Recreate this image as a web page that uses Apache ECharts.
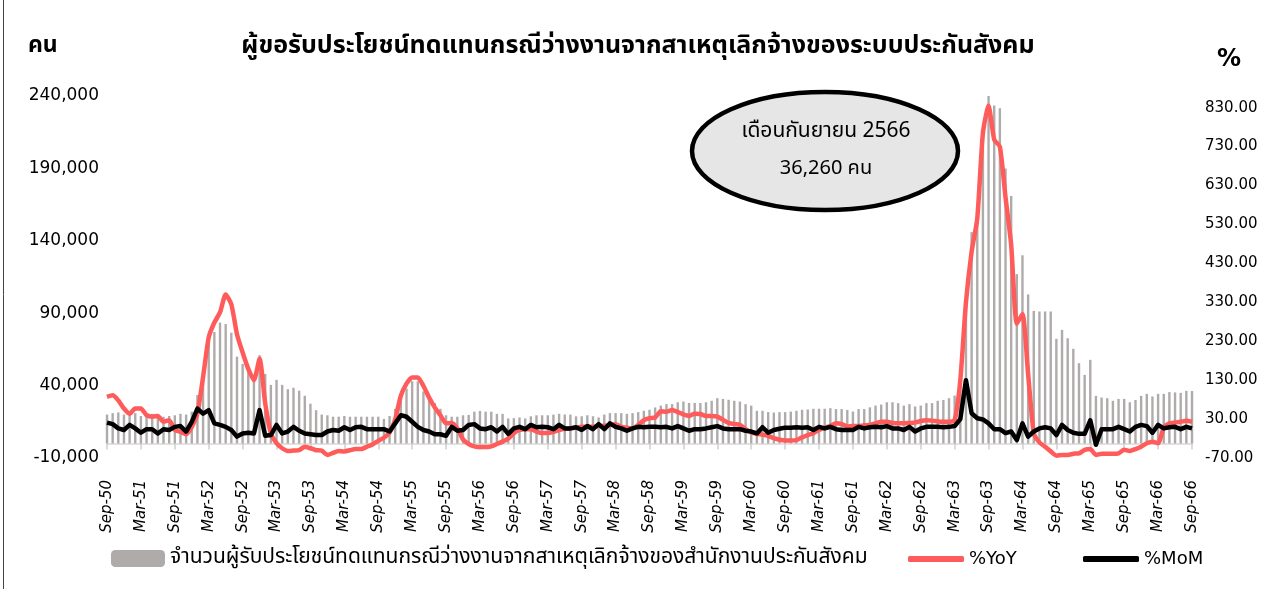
<!DOCTYPE html>
<html>
<head>
<meta charset="utf-8">
<script src="https://cdn.jsdelivr.net/npm/echarts@6/dist/echarts.min.js"></script>
<style>
html,body{margin:0;padding:0;background:#fff}
#main{width:1276px;height:589px}
</style>
</head>
<body>
<div id="main"></div>
<script>
// เดือน Sep-50 ... Sep-66 (พ.ศ.)
var monthNames = ['Jan','Feb','Mar','Apr','May','Jun','Jul','Aug','Sep','Oct','Nov','Dec'];
var months = [];
for (var y = 50; y <= 66; y++) {
    for (var m = 0; m < 12; m++) {
        if ((y === 50 && m < 8) || (y === 66 && m > 8)) continue;
        months.push(monthNames[m] + '-' + y);
    }
}

// จำนวนผู้รับประโยชน์ (คน)
var claimants = [
    20000,21000,21500,20000,20000,21000,19000,20500,20500,19000,
    18500,19000,19500,20500,20000,22000,33500,50000,72000,77000,
    83500,82500,76500,60000,55000,49500,45000,61000,48000,40500,
    44000,40500,37500,38500,36500,33000,27500,23000,20000,19500,
    18500,18500,19000,18500,18500,18500,18500,18500,18500,17000,
    19000,24000,32000,38000,43000,43000,36000,33000,28000,24000,
    19500,18500,18500,19500,19800,22000,22500,22000,22000,20500,
    20500,17300,17500,18000,17300,18800,19500,19500,19500,20000,
    20500,20000,20000,18800,18800,19500,18800,18000,20000,21000,
    21000,21000,20500,21000,21700,22600,23300,24900,26200,27200,
    27200,28500,29000,28000,28000,28000,28500,29500,31300,30800,
    30200,29500,29000,27200,26200,22600,22600,21700,21400,21700,
    21700,22100,22600,23300,23500,24000,24000,24000,24400,23800,
    23800,23200,22100,23800,23800,25000,26200,26900,28500,28500,
    27900,26200,27200,25600,26200,27900,27900,29500,30100,31300,
    33100,42000,98000,146000,156000,205000,242500,233500,231500,190000,
    171000,117000,130000,103000,91600,91200,91200,91200,72300,78500,
    72700,65400,55500,47400,57800,32900,31800,31300,29500,30800,
    30800,28500,30100,32900,34300,32500,34300,34300,35500,35300,
    35000,36400,36260
];

// %YoY
var yoy = [
    87,91,78,57,44,57,57,40,36,38,
    23,27,2,-3,-9,10,44,138,240,278,
    304,350,325,248,201,159,130,185,70,-7,
    -32,-45,-52,-51,-50,-41,-45,-50,-51,-62,
    -57,-52,-53,-50,-47,-47,-41,-35,-26,-18,
    -5,30,90,121,137,137,115,85,60,40,
    19,20,6,-22,-34,-40,-42,-42,-40,-34,
    -28,-20,-6,2,4,4,-2,-6,-6,-3,
    2,5,6,8,10,10,10,12,13,15,
    17,10,8,6,15,27,32,34,50,49,
    53,48,42,38,44,43,38,38,36,28,
    20,17,15,4,-4,-8,-10,-13,-19,-23,
    -25,-25,-24,-17,-11,-6,2,8,12,19,
    17,11,12,12,14,15,19,23,23,20,
    19,19,20,21,25,27,26,24,23,23,
    27,130,330,460,545,765,835,748,730,600,
    478,275,300,146,-6,-30,-41,-53,-64,-62,
    -62,-59,-58,-49,-47,-62,-59,-59,-59,-58,
    -49,-52,-47,-41,-32,-28,-32,8,19,21,
    23,26,23
];

// %MoM
var mom = [
    21,17,6,2,15,6,-5,4,4,-7,
    4,2,10,12,-2,23,57,44,53,19,
    15,10,2,-15,-7,-5,-7,53,-13,-11,
    15,-7,-2,10,0,-7,-9,-11,-11,-2,
    2,0,9,2,9,10,4,4,4,4,
    -2,19,40,36,23,10,2,-2,-9,-9,
    -13,10,0,2,15,17,6,4,9,-2,
    10,-8,6,10,4,15,9,10,9,4,
    15,6,6,9,2,12,4,17,4,19,
    10,6,0,6,10,9,10,10,9,10,
    6,12,6,0,4,4,6,9,12,6,
    4,4,4,0,-2,-7,9,-5,2,5,
    8,8,9,8,9,2,10,6,10,4,
    2,2,2,10,6,9,10,9,12,6,
    6,2,10,-2,6,10,10,10,9,10,
    12,30,130,45,32,29,19,4,4,-6,
    -2,-24,19,-15,-2,6,9,6,-11,15,
    2,-5,-8,-8,27,-36,4,4,4,10,
    4,-2,10,15,12,-5,15,6,9,10,
    4,10,6
];

var barName = 'จำนวนผู้รับประโยชน์ทดแทนกรณีว่างงานจากสาเหตุเลิกจ้างของสำนักงานประกันสังคม';
var thaiFont = "'Noto Sans Thai', 'Noto Sans', 'DejaVu Sans', sans-serif";

var myChart = echarts.init(document.getElementById('main'));
myChart.setOption({
    backgroundColor: '#fff',
    animation: false,
    title: {
        text: 'ผู้ขอรับประโยชน์ทดแทนกรณีว่างงานจากสาเหตุเลิกจ้างของระบบประกันสังคม',
        left: 'center',
        top: 30,
        textStyle: { fontSize: 25, fontWeight: 'bold', color: '#000', fontFamily: thaiFont }
    },
    legend: [
        {
            data: [barName], left: 106, top: 543, itemWidth: 54, itemHeight: 17, itemGap: 10,
            textStyle: { fontSize: 21, color: '#000', fontFamily: thaiFont }
        },
        {
            data: ['%YoY'], left: 903, top: 545, itemWidth: 56, itemHeight: 6, icon: 'roundRect',
            textStyle: { fontSize: 18, color: '#000', fontFamily: 'DejaVu Sans' }
        },
        {
            data: ['%MoM'], left: 1078, top: 545, itemWidth: 56, itemHeight: 6, icon: 'roundRect',
            textStyle: { fontSize: 18, color: '#000', fontFamily: 'DejaVu Sans' }
        }
    ],
    grid: { left: 107, right: 84, top: 96, bottom: 131 },
    xAxis: {
        type: 'category',
        data: months,
        boundaryGap: false,
        axisLine: { onZero: true, lineStyle: { color: '#d9d9d9', width: 1.5 } },
        axisTick: { interval: 5, length: 6, lineStyle: { color: '#d0d0d0', width: 1.5 } },
        axisLabel: {
            interval: 5, rotate: 90, margin: 22,
            fontSize: 15, fontStyle: 'italic', color: '#000', fontFamily: 'DejaVu Sans'
        },
        splitLine: { show: false }
    },
    yAxis: [
        {
            type: 'value', min: -10000, max: 240000, interval: 50000,
            axisLine: { show: false }, axisTick: { show: false }, splitLine: { show: false },
            axisLabel: {
                margin: 8, fontSize: 17, color: '#000', fontFamily: 'DejaVu Sans',
                formatter: function (v) { return v.toLocaleString('en-US'); }
            }
        },
        {
            type: 'value', min: -70, max: 860, interval: 100,
            axisLine: { show: false }, axisTick: { show: false }, splitLine: { show: false },
            axisLabel: {
                margin: 13, fontSize: 15, color: '#000', fontFamily: 'DejaVu Sans',
                showMaxLabel: false,
                formatter: function (v) { return v.toFixed(2); }
            }
        }
    ],
    series: [
        {
            name: barName, type: 'bar', data: claimants, yAxisIndex: 0,
            barWidth: 2.4,
            itemStyle: { color: '#afabab' }
        },
        {
            name: '%YoY', type: 'line', data: yoy, yAxisIndex: 1,
            symbol: 'none', smooth: 0.2,
            lineStyle: { color: '#ff5b5b', width: 4.5, join: 'round' },
            itemStyle: { color: '#ff5b5b' }
        },
        {
            name: '%MoM', type: 'line', data: mom, yAxisIndex: 1,
            symbol: 'none',
            lineStyle: { color: '#000', width: 4.5, join: 'round' },
            itemStyle: { color: '#000' }
        }
    ],
    graphic: [
        { type: 'line', shape: { x1: 3.5, y1: 0, x2: 3.5, y2: 589 }, style: { stroke: '#444', lineWidth: 1 } },
        {
            type: 'text', left: 28, top: 36,
            style: { text: 'คน', font: 'bold 23px ' + thaiFont, fill: '#000' }
        },
        {
            type: 'text', left: 1217, top: 48,
            style: { text: '%', font: 'bold 24px DejaVu Sans', fill: '#000' }
        },
        {
            type: 'ellipse', shape: { cx: 825, cy: 151, rx: 133, ry: 59 },
            style: { fill: '#e6e6e6', stroke: '#000', lineWidth: 4.5 }, z: 100
        },
        {
            type: 'text', x: 826, y: 133, z: 101,
            style: { text: 'เดือนกันยายน 2566', font: '21px ' + thaiFont, fill: '#000', align: 'center', verticalAlign: 'middle' }
        },
        {
            type: 'text', x: 826, y: 170, z: 101,
            style: { text: '36,260 คน', font: '20px ' + thaiFont, fill: '#000', align: 'center', verticalAlign: 'middle' }
        }
    ]
});
</script>
</body>
</html>
